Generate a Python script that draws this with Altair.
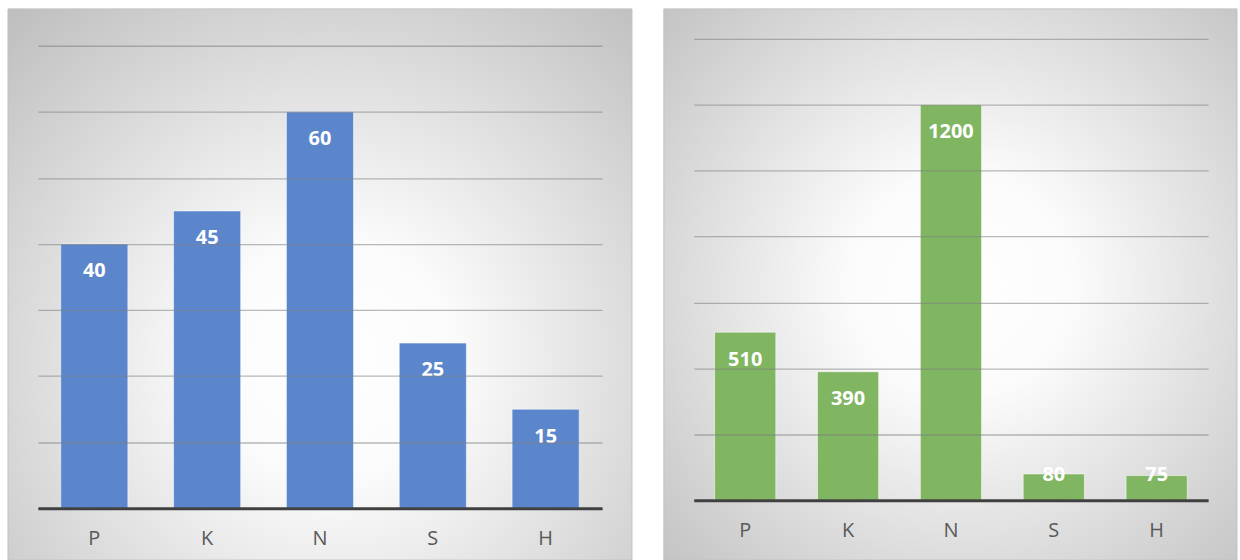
import altair as alt
import pandas as pd

categories = ["P", "K", "N", "S", "H"]
left_values = [40, 45, 60, 25, 15]
right_values = [510, 390, 1200, 80, 75]
left_ticks = [0, 10, 20, 30, 40, 50, 60, 70]
right_ticks = [0, 200, 400, 600, 800, 1000, 1200, 1400]

FONT = "Open Sans"


def panel(values, ticks, color, w, h, yrange, rect_box, min_label, center):
    df = pd.DataFrame({"cat": categories, "value": values})
    xl, xr, yt, yb = rect_box
    grad = {
        "gradient": "radial",
        "x1": center[0], "y1": center[1], "r1": 0,
        "x2": center[0], "y2": center[1], "r2": 0.78,
        "stops": [
            {"offset": 0, "color": "#ffffff"},
            {"offset": 0.25, "color": "#fbfbfb"},
            {"offset": 1, "color": "#bcbcbc"},
        ],
    }
    bg = alt.Chart(alt.Data(values=[{"a": 1}])).mark_rect(
        fill=grad, stroke="#c2c2c2", strokeWidth=1
    ).encode(
        x=alt.value(xl), x2=alt.value(xr), y=alt.value(yt), y2=alt.value(yb)
    )
    base = alt.Chart(df).encode(
        x=alt.X(
            "cat:N", sort=categories, title=None,
            scale=alt.Scale(paddingInner=0.405, paddingOuter=0.2025),
            axis=alt.Axis(
                labelAngle=0, ticks=False, grid=False, domainColor="#404040",
                domainWidth=3, labelFont=FONT, labelFontSize=20,
                labelColor="#595959", labelPadding=30, labelBaseline="middle",
                zindex=2,
            ),
        )
    )
    ymax = ticks[-1]
    yscale = alt.Scale(domain=[0, ymax], nice=False, range=yrange)
    bars = base.mark_bar(
        color=color, stroke="#ffffff", strokeOpacity=0.55, strokeWidth=1
    ).encode(
        y=alt.Y(
            "value:Q", title=None, scale=yscale,
            axis=alt.Axis(
                values=ticks, labels=False, ticks=False, domain=False,
                grid=True, gridColor="#7f7f7f", gridOpacity=0.55,
                gridWidth=1.3, zindex=1,
            ),
        )
    )
    labels = base.transform_calculate(
        pos=f"max(datum.value, {min_label})"
    ).mark_text(
        font=FONT, fontSize=20, fontWeight="bold", color="white",
        baseline="middle", dy=27.5,
    ).encode(
        y=alt.Y("pos:Q", scale=yscale),
        text=alt.Text("value:Q"),
    )
    return alt.layer(bg, bars, labels).properties(width=w, height=h)


left = panel(left_values, left_ticks, "#5b86cc", 566, 464, [464, 0],
             (-30, 596, -37, 516), 0, (0.52, 0.62))
right = panel(right_values, right_ticks, "#80b562", 516, 456, [456, -7],
              (-30, 545, -37, 516), 159, (0.52, 0.5))

chart = alt.hconcat(left, right, spacing=30).properties(
    padding={"left": 7, "top": 7, "right": 2, "bottom": 0}
).configure_view(stroke=None).configure(background="white")

chart.save("out.html", embed_options={"renderer": "svg", "actions": False})
